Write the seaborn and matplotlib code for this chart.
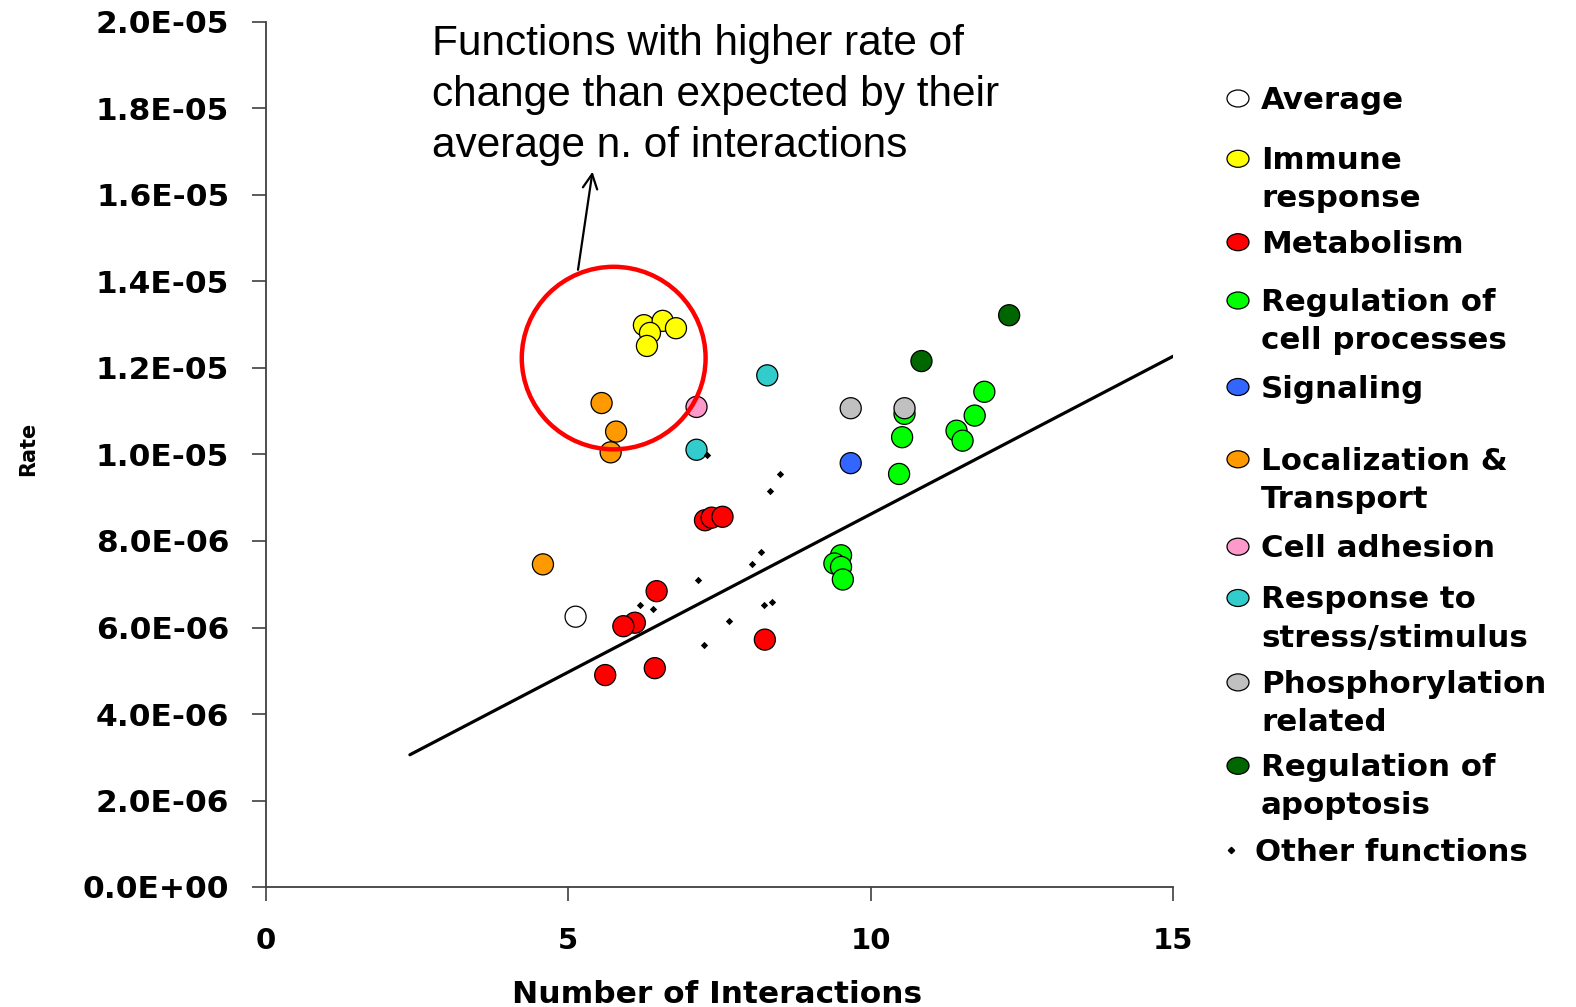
import numpy as np
import pandas as pd
import matplotlib
matplotlib.use("Agg")
import matplotlib.pyplot as plt
import seaborn as sns
from matplotlib.patches import Ellipse
from matplotlib.lines import Line2D
from matplotlib.ticker import FuncFormatter

# ---------------- data (x = number of interactions, y = rate) ----------------
average_x = [5.12]
average_y = [6.25e-6]
immune_x = [6.25, 6.56, 6.35, 6.78, 6.30]
immune_y = [12.99e-6, 13.09e-6, 12.81e-6, 12.92e-6, 12.51e-6]
metab_x = [7.26, 7.37, 7.55, 6.46, 6.10, 5.91, 8.25, 6.43, 5.61]
metab_y = [8.48e-6, 8.54e-6, 8.56e-6, 6.84e-6, 6.11e-6, 6.03e-6, 5.72e-6, 5.06e-6, 4.90e-6]
regcell_x = [11.88, 11.72, 11.42, 11.52, 10.52, 10.56, 10.47, 9.51, 9.40, 9.51, 9.54]
regcell_y = [11.45e-6, 10.90e-6, 10.55e-6, 10.32e-6, 10.40e-6, 10.94e-6, 9.55e-6,
             7.67e-6, 7.48e-6, 7.40e-6, 7.11e-6]
signal_x = [9.67]
signal_y = [9.80e-6]
local_x = [5.55, 5.79, 5.70, 4.58]
local_y = [11.19e-6, 10.53e-6, 10.05e-6, 7.46e-6]
adhesion_x = [7.12]
adhesion_y = [11.10e-6]
stress_x = [8.29, 7.12]
stress_y = [11.83e-6, 10.11e-6]
phos_x = [9.67, 10.56]
phos_y = [11.07e-6, 11.07e-6]
apop_x = [12.29, 10.84]
apop_y = [13.22e-6, 12.16e-6]
other_x = [7.29, 8.50, 8.34, 8.18, 8.04, 7.15, 6.19, 6.40, 8.24, 8.37, 7.66, 7.25]
other_y = [9.98e-6, 9.55e-6, 9.15e-6, 7.75e-6, 7.46e-6, 7.09e-6, 6.53e-6, 6.42e-6,
           6.53e-6, 6.59e-6, 6.16e-6, 5.60e-6]

# regression line
fit_slope = 0.73e-6
fit_intercept = 1.32e-6
fit_x_range = [2.38, 15.0]

# highlighted region (circle) and arrow
circle_center = (5.75, 12.23e-6)
circle_size = (3.04, 4.22e-6)
arrow_tail = (5.16, 14.27e-6)
arrow_tip = (5.40, 16.54e-6)

categories = ["Average", "Immune response", "Metabolism", "Regulation of cell processes",
              "Signaling", "Localization & Transport", "Cell adhesion",
              "Response to stress/stimulus", "Phosphorylation related",
              "Regulation of apoptosis", "Other functions"]
legend_labels = ["Average", "Immune\nresponse", "Metabolism", "Regulation of\ncell processes",
                 "Signaling", "Localization &\nTransport", "Cell adhesion",
                 "Response to\nstress/stimulus", "Phosphorylation\nrelated",
                 "Regulation of\napoptosis", "Other functions"]
colors = {
    "Average": "#FFFFFF",
    "Immune response": "#FFFF00",
    "Metabolism": "#FF0000",
    "Regulation of cell processes": "#00FF00",
    "Signaling": "#3366FF",
    "Localization & Transport": "#FF9900",
    "Cell adhesion": "#FF99CC",
    "Response to stress/stimulus": "#33CCCC",
    "Phosphorylation related": "#C0C0C0",
    "Regulation of apoptosis": "#006600",
}
x_ticks = [0, 5, 10, 15]
annotation_lines = ["Functions with higher rate of",
                    "change than expected by their",
                    "average n. of interactions"]

# ---------------- build table ----------------
series = [
    ("Average", average_x, average_y),
    ("Localization & Transport", local_x, local_y),
    ("Immune response", immune_x, immune_y),
    ("Metabolism", metab_x, metab_y),
    ("Regulation of cell processes", regcell_x, regcell_y),
    ("Signaling", signal_x, signal_y),
    ("Cell adhesion", adhesion_x, adhesion_y),
    ("Response to stress/stimulus", stress_x, stress_y),
    ("Phosphorylation related", phos_x, phos_y),
    ("Regulation of apoptosis", apop_x, apop_y),
]
rows = []
for cat, xs, ys in series:
    for xv, yv in zip(xs, ys):
        rows.append({"cat": cat, "x": xv, "y": yv})
df = pd.DataFrame(rows)
df_other = pd.DataFrame({"x": other_x, "y": other_y})

# ---------------- figure ----------------
sns.set_theme(style="white")
plt.rcParams["font.family"] = ["DejaVu Sans"]

W, H = 1576, 1007
fig = plt.figure(figsize=(W / 100, H / 100), dpi=100)
ax_left, ax_right, ax_top, ax_bottom = 266, 1173, 22, 887
ax = fig.add_axes([ax_left / W, 1 - ax_bottom / H, (ax_right - ax_left) / W,
                   (ax_bottom - ax_top) / H])

# regression line
fx = np.array(fit_x_range)
fy = fit_intercept + fit_slope * fx
sns.lineplot(x=fx, y=fy, color="black", lw=2.3, ax=ax, zorder=2)

# category points
sns.scatterplot(data=df, x="x", y="y", hue="cat", palette=colors, s=230,
                edgecolor="black", linewidth=0.9, legend=False, ax=ax, zorder=3)
# other functions
sns.scatterplot(data=df_other, x="x", y="y", marker="D", s=14, color="black",
                linewidth=0, legend=False, ax=ax, zorder=4)

# highlight circle and arrow
ax.add_patch(Ellipse(circle_center, circle_size[0], circle_size[1], fill=False,
                     edgecolor="#FF0000", lw=3.2, zorder=5, clip_on=False))
ax.annotate("", xy=arrow_tip, xytext=arrow_tail,
            arrowprops=dict(arrowstyle="->", lw=1.6, color="black", mutation_scale=26,
                            shrinkA=0, shrinkB=0), annotation_clip=False)

# axes styling
ax.set_xlim(0, 15)
ax.set_ylim(0, 2e-5)
ax.set_xticks(x_ticks)
ax.set_yticks(np.linspace(0, 2e-5, 11))
ax.yaxis.set_major_formatter(FuncFormatter(lambda v, p: f"{v:.1E}"))
ax.xaxis.set_major_formatter(FuncFormatter(lambda v, p: f"{v:g}"))
for s in ["top", "right"]:
    ax.spines[s].set_visible(False)
for s in ["left", "bottom"]:
    ax.spines[s].set_color("#404040")
    ax.spines[s].set_linewidth(1.3)
ax.tick_params(axis="both", direction="out", length=10, width=1.2, color="#404040",
               bottom=True, left=True, labelcolor="black")
ax.tick_params(axis="y", pad=16.5, labelsize=22.5)
ax.tick_params(axis="x", pad=19, labelsize=21)
for lab in ax.get_xticklabels() + ax.get_yticklabels():
    lab.set_fontweight("bold")
    lab.set_color("black")

ax.set_xlabel("Number of Interactions", fontsize=22.5, fontweight="bold", va="baseline",
              color="black")
ax.xaxis.set_label_coords((717 - ax_left) / (ax_right - ax_left),
                          (ax_bottom - 1003) / (ax_bottom - ax_top))
ax.set_ylabel("Rate", fontsize=15, fontweight="bold", va="center", color="black")
ax.yaxis.set_label_coords((28 - ax_left) / (ax_right - ax_left),
                          (ax_bottom - 449) / (ax_bottom - ax_top))

# annotation text
ann_baselines = [55, 106, 157]
for line, yb in zip(annotation_lines, ann_baselines):
    fig.text(432 / W, 1 - yb / H, line, fontsize=30.5, family=["Liberation Sans", "DejaVu Sans"],
             va="baseline", ha="left", color="black")

# custom legend
leg_centers = [98.5, 158.8, 242.2, 300.5, 387.0, 459.3, 546.7, 598.0, 682.4, 765.8, 850.2]
line_step = 38.2
for cat, label, yc in zip(categories, legend_labels, leg_centers):
    if cat == "Other functions":
        fig.add_artist(Line2D([1231 / W], [1 - yc / H], marker="D", markersize=3.2,
                              color="black", linestyle="none", transform=fig.transFigure))
        tx = 1255
    else:
        fig.add_artist(Ellipse((1238 / W, 1 - yc / H), 22 / W, 17 / H,
                               facecolor=colors[cat], edgecolor="black", lw=0.9,
                               transform=fig.transFigure))
        tx = 1261
    for i, part in enumerate(label.split("\n")):
        yb = yc + 10.5 + i * line_step
        fig.text(tx / W, 1 - yb / H, part, fontsize=22.2, fontweight="bold",
                 va="baseline", ha="left", color="black")

fig.savefig("out.png", dpi=100, facecolor="white")
